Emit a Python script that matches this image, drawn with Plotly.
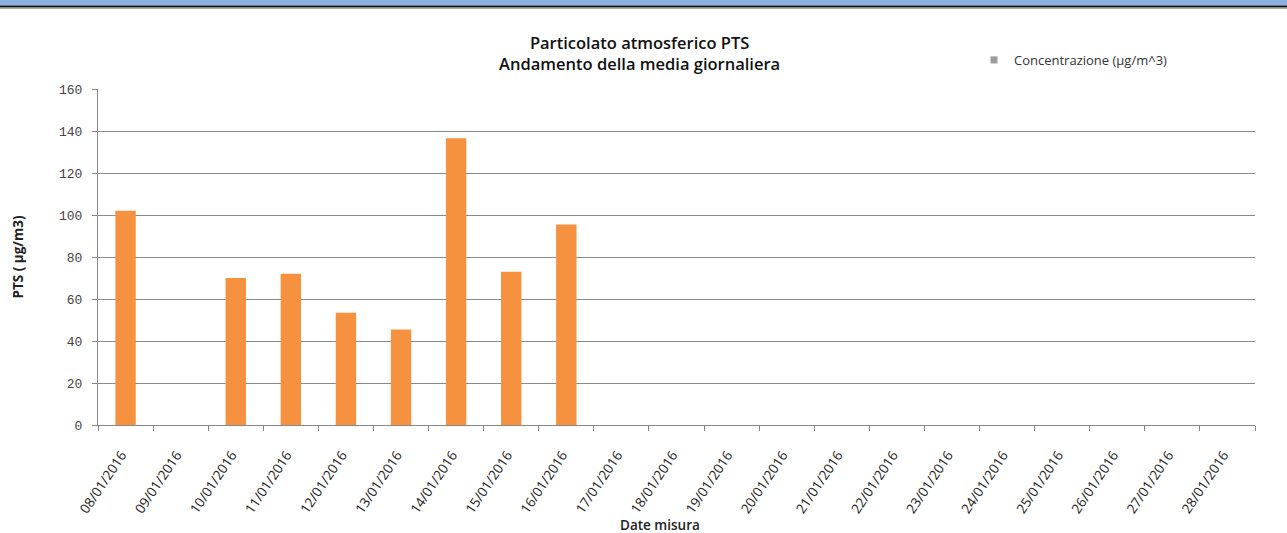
import plotly.graph_objects as go

dates = [f"{d:02d}/01/2016" for d in range(8, 29)]
values = [102, None, 70, 72, 53.5, 45.5, 136.5, 73, 95.5] + [None] * 12
y_ticks = [0, 20, 40, 60, 80, 100, 120, 140, 160]
series_name = "Concentrazione (µg/m^3)"

W, H = 1287, 533
L, R, T, B = 98, 32, 89, 108
plot_w, plot_h = W - L - R, H - T - B

sans = "'Open Sans', sans-serif"
mono = "'Liberation Mono', monospace"

fig = go.Figure()
fig.add_trace(go.Bar(
    x=dates, y=values, marker=dict(color="#F5913F", line=dict(width=0)),
    showlegend=False, name=series_name,
))
fig.add_trace(go.Scatter(
    x=[None], y=[None], mode="markers",
    marker=dict(symbol="square", size=7, color="#9C9C9C"),
    name=series_name, showlegend=True,
))


def px_x(p):
    return (p - L) / plot_w


def px_y(p):
    return (H - B - p) / plot_h


fig.update_layout(
    width=W, height=H,
    margin=dict(l=L, r=R, t=T, b=B, autoexpand=False),
    paper_bgcolor="white", plot_bgcolor="white",
    bargap=0.63,
    font=dict(family=sans, color="#222", size=12),
    title=dict(
        text="Particolato atmosferico PTS<br>Andamento della media giornaliera",
        x=0.497, xanchor="center", y=1 - 48.5 / H, yanchor="middle",
        font=dict(size=16.5, color="#111", family=sans, weight=600),
    ),
    legend=dict(x=px_x(974), y=px_y(60), xanchor="left", yanchor="middle",
                bgcolor="rgba(0,0,0,0)", font=dict(size=13, color="#333", family=sans),
                itemwidth=30),
    xaxis=dict(
        type="category", categoryorder="array", categoryarray=dates,
        range=[-0.5, 20.5], automargin=False,
        tickangle=-56, tickson="boundaries", ticks="outside", ticklen=5,
        tickcolor="#888", showline=True, linecolor="#888", linewidth=1,
        showgrid=False, tickfont=dict(size=13.5, color="#222", family=sans),
        ticklabelstandoff=16, ticklabelshift=-4,
    ),
    yaxis=dict(
        range=[0, 160], tickvals=y_ticks, ticks="outside", ticklen=5,
        automargin=False,
        tickcolor="#888", showline=True, linecolor="#888", linewidth=1,
        showgrid=True, gridcolor="#8a8a8a", gridwidth=1, zeroline=False,
        tickfont=dict(size=13, color="#444", family=mono),
        ticklabelstandoff=7,
        title=dict(text="PTS ( µg/m3)", font=dict(size=13.5, color="#222", weight=700),
                   standoff=32),
    ),
    annotations=[
        dict(text="Date misura", xref="paper", yref="paper",
             x=px_x(660), y=px_y(525), xanchor="center", yanchor="middle",
             showarrow=False, font=dict(size=13.5, color="#222", weight=600)),
    ],
    shapes=[
        dict(type="rect", xref="paper", yref="paper",
             x0=px_x(0), x1=px_x(W), y0=px_y(5.5), y1=px_y(0),
             fillcolor="#8DB0E2", line=dict(width=0), layer="above"),
        dict(type="line", xref="paper", yref="paper",
             x0=px_x(0), x1=px_x(W), y0=px_y(6.5), y1=px_y(6.5),
             line=dict(color="#111", width=2)),
        dict(type="line", xref="paper", yref="paper",
             x0=px_x(0), x1=px_x(W), y0=px_y(8.5), y1=px_y(8.5),
             line=dict(color="#AAA", width=1)),
    ],
)

fig.write_html("out.html", config={"displayModeBar": False},
               post_script="document.body.style.margin='0';document.body.style.overflow='hidden';")
